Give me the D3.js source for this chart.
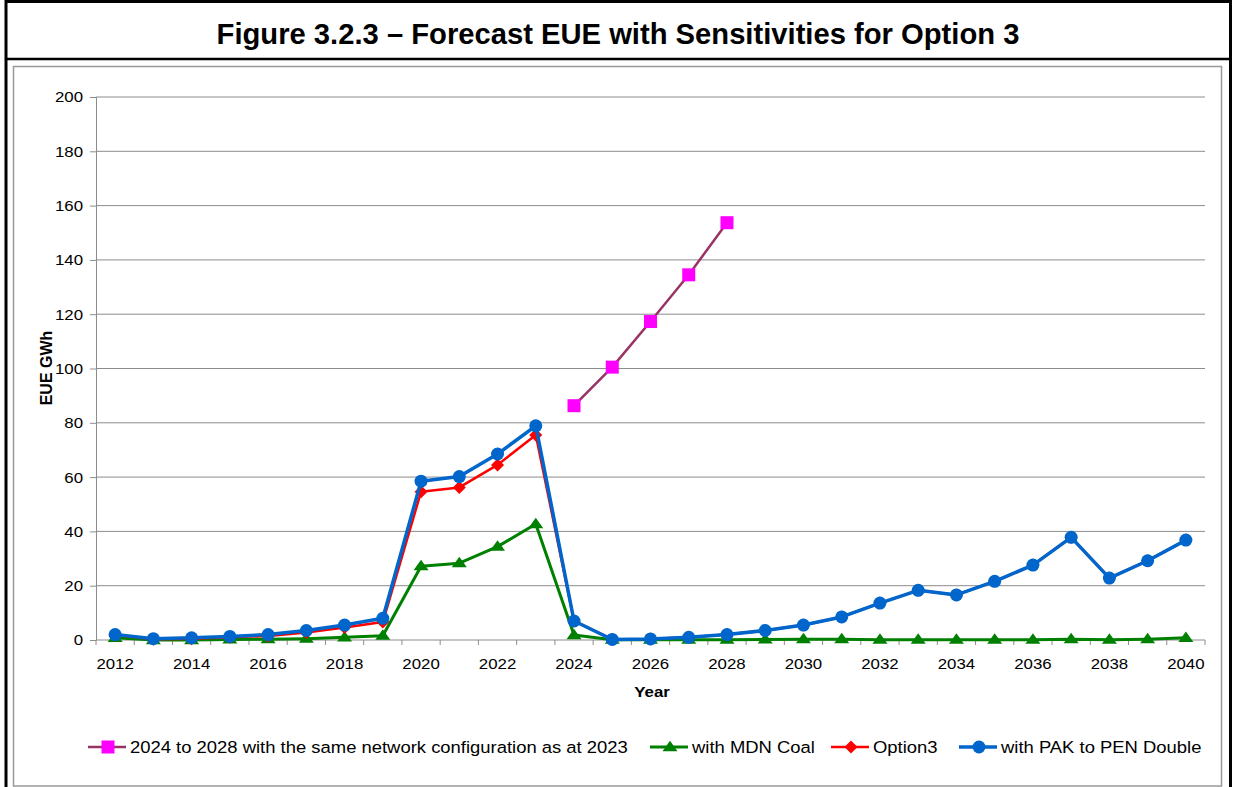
<!DOCTYPE html>
<html lang="en">
  <head>
    <meta charset="utf-8">
    <title>Forecast EUE with Sensitivities for Option 3</title>
    <script src="https://cdn.jsdelivr.net/npm/d3@7"></script>
    <style type="text/css">
     body { margin: 0; background: #fff; }
     text { font-family: "Liberation Sans", Arial, sans-serif; fill: #000; }
    </style>
  </head>
  <body>
    <script type="text/javascript">

     // data
     let years = d3.range(2012, 2041);
     let yTicks = [0, 20, 40, 60, 80, 100, 120, 140, 160, 180, 200];
     let xTickLabels = [2012, 2014, 2016, 2018, 2020, 2022, 2024, 2026, 2028, 2030, 2032, 2034, 2036, 2038, 2040];

     let sameNetworkYears = [2024, 2025, 2026, 2027, 2028];
     let sameNetwork = [86.3, 100.5, 117.3, 134.5, 153.7];
     let mdnCoal = [0.8, 0.0, 0.0, 0.2, 0.3, 0.5, 1.0, 1.6, 27.2, 28.3, 34.4, 42.7,
                    1.8, 0.1, 0.1, 0.1, 0.1, 0.2, 0.3, 0.3, 0.1, 0.1, 0.1, 0.1, 0.1, 0.3, 0.1, 0.3, 0.8];
     let option3 = [1.8, 0.3, 0.5, 1.0, 1.5, 2.8, 4.6, 6.6, 54.6, 56.2, 64.5, 75.5,
                    7.0, 0.2, 0.4, 1.0, 2.0, 3.5, 5.5, 8.5, 13.6, 18.3, 16.6, 21.6, 27.6, 37.8, 22.8, 29.2, 36.8];
     let pakPen = [2.0, 0.5, 0.8, 1.3, 2.0, 3.5, 5.5, 8.0, 58.5, 60.2, 68.5, 78.9,
                   7.0, 0.2, 0.4, 1.0, 2.0, 3.5, 5.5, 8.5, 13.6, 18.3, 16.6, 21.6, 27.6, 37.8, 22.8, 29.2, 36.8];

     let seriesNames = ["2024 to 2028 with the same network configuration as at 2023",
                        "with MDN Coal", "Option3", "with PAK to PEN Double"];

     let w = 1236, h = 787;
     let svg = d3.select("body").append("svg")
                 .attr("width", w).attr("height", h)
                 .style("display", "block");

     // the chart picture is a little stretched sideways, so its text is too
     function stretchedText(parent, x, y, str, size, sx, anchor, bold) {
       let g = parent.append("g").attr("transform", `translate(${x},${y}) scale(${sx},1)`);
       return g.append("text").attr("text-anchor", anchor).attr("font-size", size + "px")
               .attr("font-weight", bold ? "bold" : "normal").text(str);
     }

     // frames
     svg.append("rect").attr("x", 6).attr("y", 1.5).attr("width", 1224.5).attr("height", 800)
        .attr("fill", "none").attr("stroke", "#000").attr("stroke-width", 3);
     svg.append("line").attr("x1", 6).attr("x2", 1230).attr("y1", 59).attr("y2", 59)
        .attr("stroke", "#000").attr("stroke-width", 2.5);
     svg.append("rect").attr("x", 13.5).attr("y", 66.5).attr("width", 1208).attr("height", 719.5)
        .attr("fill", "none").attr("stroke", "#999").attr("stroke-width", 1.5);

     svg.append("text").attr("x", 618).attr("y", 44).attr("text-anchor", "middle")
        .attr("font-size", "29.2px").attr("font-weight", "bold")
        .text("Figure 3.2.3 – Forecast EUE with Sensitivities for Option 3");

     let margin = {left: 96, right: 1205, top: 97, bottom: 640};
     let xScale = d3.scaleBand().domain(years).range([margin.left, margin.right]);
     let yScale = d3.scaleLinear().domain([0, 200]).range([margin.bottom, margin.top]);
     let xc = (d) => xScale(d) + xScale.bandwidth() / 2;

     // grid
     svg.append("g").selectAll("line").data(yTicks.slice(1)).enter().append("line")
        .attr("x1", margin.left).attr("x2", margin.right)
        .attr("y1", d => yScale(d)).attr("y2", d => yScale(d))
        .attr("stroke", "#8c8c8c").attr("stroke-width", 1);

     // y axis (labels drawn by hand so they can be stretched)
     let yAxis = svg.append("g").attr("transform", `translate(${margin.left},0)`)
                    .call(d3.axisLeft(yScale).tickValues(yTicks).tickSize(6).tickFormat(""));
     yAxis.select(".domain").attr("stroke", "#8c8c8c");
     yAxis.selectAll(".tick line").attr("stroke", "#8c8c8c");
     let yLab = svg.append("g");
     yTicks.forEach(t => stretchedText(yLab, 83, yScale(t) + 5.4, t, 15.3, 1.1, "end", false));

     // x axis: ticks between categories, labels every second year
     let xAxisG = svg.append("g");
     xAxisG.append("line").attr("x1", margin.left).attr("x2", margin.right)
           .attr("y1", margin.bottom).attr("y2", margin.bottom).attr("stroke", "#8c8c8c");
     xAxisG.selectAll("line.tk").data(years.map(d => xScale(d)).concat([margin.right])).enter()
           .append("line").attr("class", "tk")
           .attr("x1", d => d).attr("x2", d => d)
           .attr("y1", margin.bottom).attr("y2", margin.bottom + 5).attr("stroke", "#8c8c8c");
     xTickLabels.forEach(t => stretchedText(xAxisG, xc(t), 669, t, 15.3, 1.1, "middle", false));

     stretchedText(svg, 652, 697, "Year", 15.3, 1.1, "middle", true);
     svg.append("text").attr("transform", "translate(52,368) rotate(-90)").attr("text-anchor", "middle")
        .attr("font-size", "16px").attr("font-weight", "bold").text("EUE GWh");

     let line = d3.line().x(d => xc(d[0])).y(d => yScale(d[1]));

     function marker(g, type, fill, size) {
       if (type === "square") {
         g.append("rect").attr("x", -size / 2).attr("y", -size / 2).attr("width", size).attr("height", size).attr("fill", fill);
       } else if (type === "diamond") {
         g.append("path").attr("d", `M0,${-size}L${size},0L0,${size}L${-size},0Z`).attr("fill", fill);
       } else if (type === "triangle") {
         g.append("path").attr("d", `M0,${-size * 0.85}L${size},${size * 0.55}L${-size},${size * 0.55}Z`).attr("fill", fill);
       } else {
         g.append("circle").attr("r", size).attr("fill", fill);
       }
     }

     let series = [
       {name: seriesNames[0], pts: d3.zip(sameNetworkYears, sameNetwork), stroke: "#993366", width: 2.5, fill: "#ff00ff", type: "square", size: 13},
       {name: seriesNames[1], pts: d3.zip(years, mdnCoal), stroke: "#008000", width: 3, fill: "#008000", type: "triangle", size: 7.5},
       {name: seriesNames[2], pts: d3.zip(years, option3), stroke: "#ff0000", width: 2.5, fill: "#ff0000", type: "diamond", size: 6.5},
       {name: seriesNames[3], pts: d3.zip(years, pakPen), stroke: "#0066cc", width: 3.5, fill: "#0066cc", type: "circle", size: 6.5}
     ];

     series.forEach(s => {
       svg.append("path").datum(s.pts).attr("d", line).attr("fill", "none")
          .attr("stroke", s.stroke).attr("stroke-width", s.width).attr("stroke-linejoin", "round");
       svg.append("g").selectAll("g").data(s.pts).enter().append("g")
          .attr("transform", d => `translate(${xc(d[0])},${yScale(d[1])})`)
          .each(function () { marker(d3.select(this), s.type, s.fill, s.size); });
     });

     // legend
     let legendX = [88, 650, 831, 959];
     let legend = svg.append("g").attr("transform", "translate(0,747)");
     series.forEach((s, i) => {
       let g = legend.append("g").attr("transform", `translate(${legendX[i]},0)`);
       g.append("line").attr("x1", 0).attr("x2", 38).attr("stroke", s.stroke).attr("stroke-width", s.width);
       let m = g.append("g").attr("transform", "translate(20,0)");
       marker(m, s.type, s.fill, s.size);
       stretchedText(g, 42, 6, s.name, 17, 1.085, "start", false);
     });
    </script>
  </body>
</html>
